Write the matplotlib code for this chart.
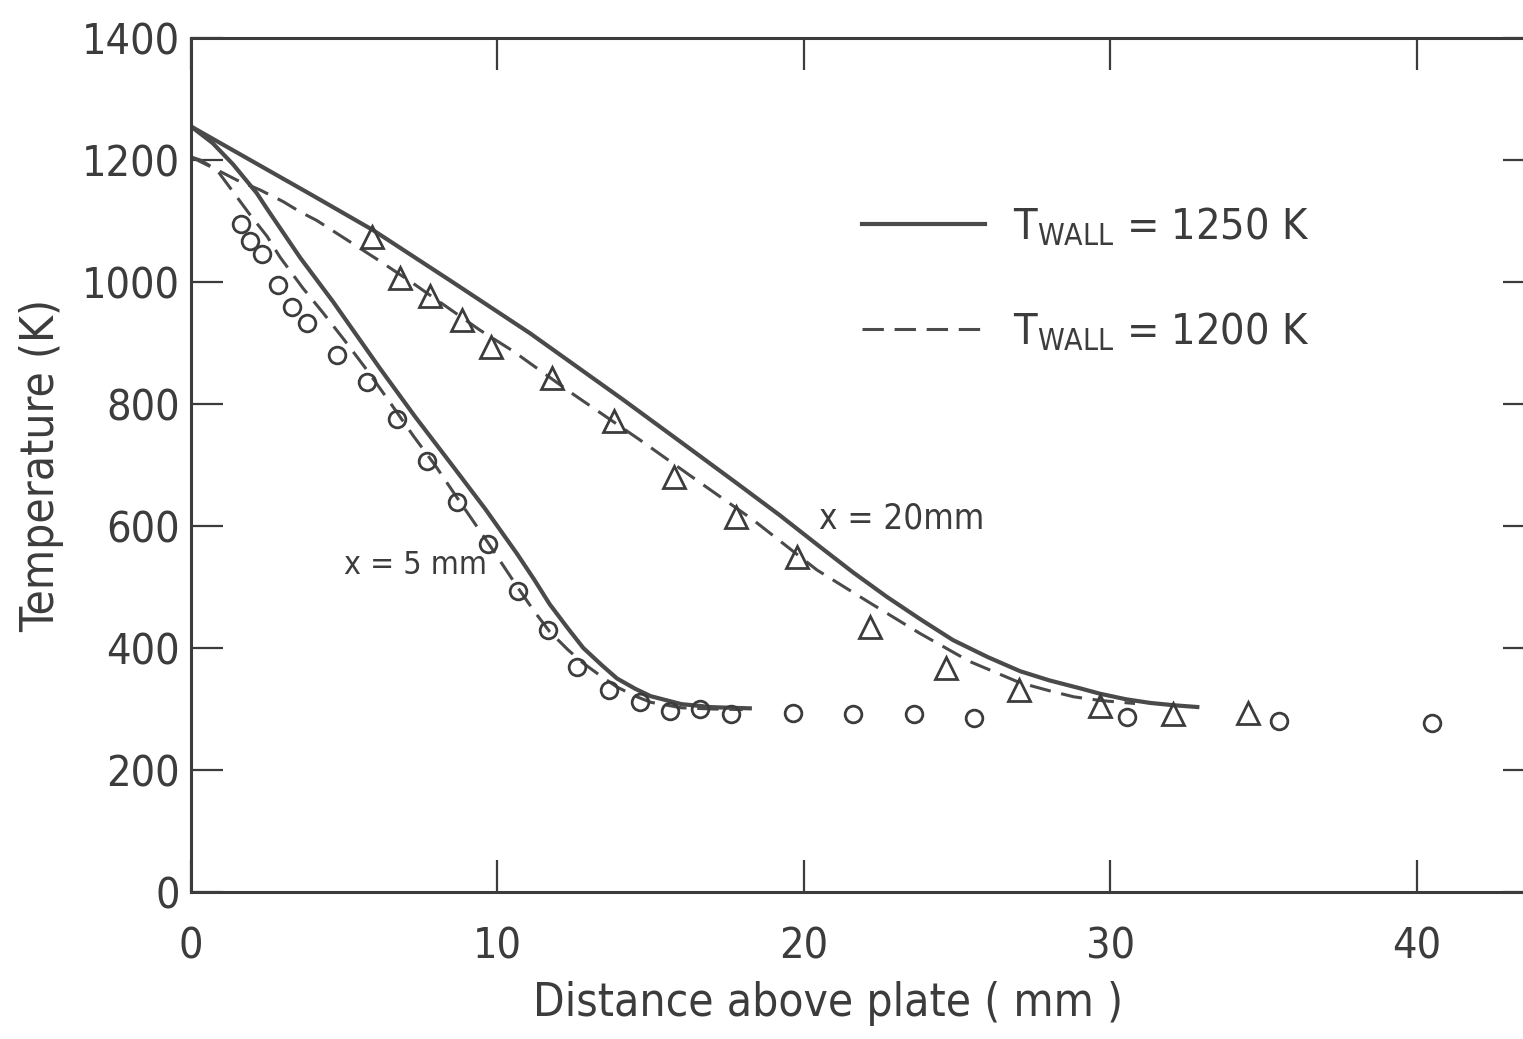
import matplotlib
matplotlib.use("Agg")
import matplotlib.pyplot as plt
from matplotlib.lines import Line2D

FONT = ['Liberation Sans Narrow', 'DejaVu Sans']
plt.rcParams['font.family'] = FONT
plt.rcParams['font.stretch'] = 'condensed'
plt.rcParams['mathtext.fontset'] = 'custom'
plt.rcParams['mathtext.rm'] = 'DejaVu Sans:stretch=condensed'
plt.rcParams['mathtext.it'] = 'DejaVu Sans:stretch=condensed'

# ---- data ----
# x = 5 mm, T_wall = 1250 K (solid)
x5_1250_d = [0, 0.7, 1.37, 2.14, 2.48, 3.56, 4.63, 6.17, 7.3, 8.56, 9.6, 10.63, 11.2,
             11.7, 12.3, 12.8, 13.4, 13.9, 14.5, 15.0, 16.0, 17.0, 18.3]
x5_1250_T = [1255, 1228, 1193, 1146, 1120, 1040, 968, 858, 780, 697, 628, 555, 512,
             472, 432, 400, 372, 350, 333, 321, 308, 303, 301]
# x = 5 mm, T_wall = 1200 K (dashed)
x5_1200_d = [0, 0.3, 0.84, 1.37, 1.9, 2.48, 2.9, 3.65, 4.3, 5.0, 5.75, 6.5, 7.25, 8.0, 8.7,
             9.7, 10.65, 11.2, 11.7, 12.3, 12.8, 13.4, 13.9, 14.5, 15.0, 16.0, 17.0, 18.0]
x5_1200_T = [1205, 1200, 1184, 1148, 1112, 1075, 1041, 990, 950, 905, 855, 802, 748, 697, 645,
             572, 500, 460, 427, 397, 375, 353, 336, 321, 311, 302, 300, 299]
# x = 20 mm, T_wall = 1250 K (solid)
x20_1250_d = [0, 2.0, 4.0, 5.94, 8.5, 11.06, 14.1, 16.0, 17.81, 19.2, 20.52, 21.6, 22.7,
              23.8, 24.86, 26.0, 27.05, 28.0, 29.0, 29.66, 30.5, 31.29, 32.1, 32.9]
x20_1250_T = [1255, 1198, 1141, 1085, 1001, 916, 807, 737, 670, 618, 566, 524, 484,
              447, 413, 385, 362, 347, 334, 325, 316, 310, 306, 303]
# x = 20 mm, T_wall = 1200 K (dashed)
x20_1200_d = [0, 0.84, 1.5, 2.25, 3.0, 3.56, 4.1, 5.09, 6.17, 7.24, 8.35, 9.43, 10.5, 12.5,
              14.65, 16.5, 18.34, 20.42, 22.15, 23.78, 25.4, 27.05, 28.0, 28.8, 29.66, 30.8]
x20_1200_T = [1205, 1184, 1167, 1151, 1132, 1115, 1101, 1069, 1034, 998, 959, 921, 887, 815,
              741, 675, 610, 528, 474, 424, 378, 343, 330, 320, 314, 309]
# measurements, x = 5 mm (circles)
circ_d = [1.63, 1.92, 2.32, 2.84, 3.30, 3.79, 4.76, 5.74, 6.72, 7.70, 8.68, 9.69, 10.67,
          11.65, 12.59, 13.64, 14.65, 15.63, 16.61, 17.62, 19.64, 21.60, 23.59, 25.55,
          30.54, 35.50, 40.49]
circ_T = [1095, 1067, 1046, 995, 959, 933, 880, 836, 775, 707, 639, 570, 493,
          430, 369, 331, 311, 297, 300, 292, 293, 292, 292, 285,
          287, 280, 277]
# measurements, x = 20 mm (triangles)
tri_d = [5.91, 6.82, 7.80, 8.84, 9.79, 11.78, 13.80, 15.76, 17.78, 19.77, 22.15, 24.63,
         27.01, 29.66, 32.04, 34.49]
tri_T = [1074, 1007, 977, 938, 893, 843, 772, 680, 615, 549, 434, 367,
         331, 305, 292, 293]

x_ticks = [0, 10, 20, 30, 40]
y_ticks = [0, 200, 400, 600, 800, 1000, 1200, 1400]
legend_labels = [r'T$_{\mathrm{WALL}}$ = 1250 K', r'T$_{\mathrm{WALL}}$ = 1200 K']
xlabel = 'Distance above plate ( mm )'
ylabel = 'Temperature (K)'

# ---- figure ----
W, H = 1523, 1039
fig = plt.figure(figsize=(W / 100, H / 100), dpi=100)
ax = fig.add_axes([191 / W, (H - 892) / H, (1535 - 191) / W, (892 - 38) / H])

ink = '#3c3c3c'
line_c = '#4a4a4a'

ax.plot(x5_1250_d, x5_1250_T, color=line_c, lw=3.0, solid_capstyle='butt')
ax.plot(x20_1250_d, x20_1250_T, color=line_c, lw=3.0, solid_capstyle='butt')
ax.plot(x5_1200_d, x5_1200_T, color=line_c, lw=2.2, dashes=(7, 3.5))
ax.plot(x20_1200_d, x20_1200_T, color=line_c, lw=2.2, dashes=(7, 3.5))

ax.plot(circ_d, circ_T, ls='none', marker='o', ms=12, mfc='none', mec=ink, mew=2.0)
ax.plot(tri_d, tri_T, ls='none', marker='^', ms=16, mfc='none', mec=ink, mew=2.0)

ax.set_xlim(0, 43.85)
ax.set_ylim(0, 1400)
ax.set_xticks(x_ticks)
ax.set_yticks(y_ticks)
ax.tick_params(direction='in', length=23, width=1.6, color=ink,
               top=True, right=True, labelsize=31, labelcolor=ink)
ax.tick_params(axis='x', pad=24)
ax.tick_params(axis='y', pad=8)
for s in ax.spines.values():
    s.set_linewidth(2.2)
    s.set_color(ink)
ax.spines['right'].set_visible(False)

ax.set_xlabel(xlabel, fontsize=33, color=ink, va='center')
ax.xaxis.set_label_coords((828 - 191) / (1535 - 191), -(1003 - 892) / (892 - 38))
ax.set_ylabel(ylabel, fontsize=33, color=ink, va='center')
ax.yaxis.set_label_coords(-(191 - 42) / (1535 - 191), (892 - 465) / (892 - 38))

ax.text(5.0, 536, 'x = 5 mm', fontsize=23, color=ink, ha='left', va='center')
ax.text(20.5, 613, 'x = 20mm', fontsize=25, color=ink, ha='left', va='center')

handles = [Line2D([], [], color=line_c, lw=3.0),
           Line2D([], [], color=line_c, lw=2.2, dashes=(7, 3.5))]
leg = ax.legend(handles, legend_labels, loc='upper left',
                bbox_to_anchor=((862 - 191) / (1535 - 191), 1 - (205 - 38) / (892 - 38)),
                frameon=False, fontsize=31, handlelength=2.85, handletextpad=0.65,
                labelspacing=1.45, borderpad=0, borderaxespad=0)
for t in leg.get_texts():
    t.set_color(ink)

fig.savefig('out.png', dpi=100)
